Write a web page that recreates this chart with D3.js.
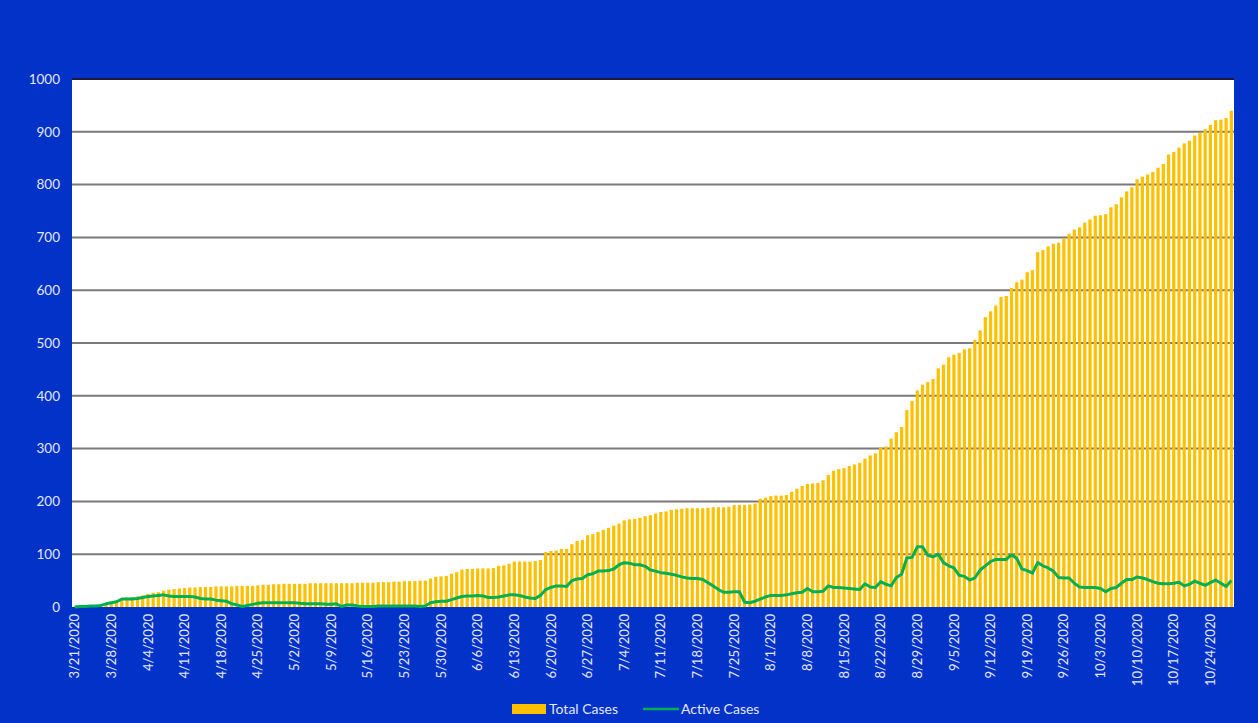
<!DOCTYPE html>
<html>
<head>
<meta charset="utf-8">
<script src="https://cdn.jsdelivr.net/npm/d3@7"></script>
<style>
  body { margin: 0; background: #0232c8; }
  svg { display: block; }
  text { font-family: Lato, "Open Sans", sans-serif; fill: #e3e7fb; }
</style>
</head>
<body>
<svg id="chart" width="1258" height="723"></svg>
<script>
// first day of the series, one value per day after it
var startDate = "2020-03-21";

var totalCases = [
  1, 1, 2, 2, 3, 4, 5, 7, 11, 16, 18, 19, 20, 22, 25, 27, 28, 31, 33, 34,
  35, 36, 37, 37, 38, 38, 38, 39, 39, 39, 39, 40, 40, 40, 40, 41, 42, 42, 43, 43,
  44, 44, 44, 44, 44, 45, 45, 45, 45, 45, 45, 45, 45, 45, 46, 46, 46, 46, 47, 47,
  47, 48, 48, 49, 49, 49, 50, 50, 54, 57, 58, 59, 63, 66, 71, 72, 72, 73, 73, 73,
  74, 78, 79, 82, 86, 86, 86, 86, 87, 89, 104, 106, 107, 110, 110, 119, 125, 127, 136, 138,
  142, 146, 150, 154, 158, 164, 166, 167, 169, 172, 174, 177, 180, 181, 184, 185, 186, 187, 187, 187,
  187, 188, 189, 189, 189, 190, 193, 193, 193, 194, 196, 205, 207, 210, 211, 211, 212, 218, 224, 229,
  233, 234, 235, 240, 250, 258, 261, 263, 267, 270, 273, 281, 287, 291, 302, 304, 319, 331, 341, 373,
  390, 410, 421, 426, 432, 452, 459, 473, 478, 481, 488, 490, 506, 524, 549, 560, 571, 587, 589, 604,
  615, 620, 634, 638, 672, 676, 683, 688, 690, 698, 707, 715, 719, 728, 734, 741, 742, 744, 757, 763,
  776, 787, 795, 810, 815, 819, 824, 832, 839, 857, 862, 870, 878, 883, 893, 898, 905, 913, 922, 923,
  926, 940
];

var activeCases = [
  0, 1, 1, 2, 2, 3, 6, 8, 10, 15, 15, 15, 16, 18, 20, 21, 22, 23, 21, 20,
  20, 20, 20, 19, 16, 15, 15, 13, 12, 11, 6, 4, 1, 3, 5, 7, 8, 8, 8, 8,
  8, 8, 8, 7, 6, 6, 6, 6, 5, 5, 6, 1, 4, 4, 2, 1, 1, 1, 2, 2,
  2, 2, 2, 2, 2, 2, 1, 2, 8, 10, 11, 11, 14, 17, 20, 21, 21, 22, 21, 18,
  18, 19, 21, 23, 23, 22, 19, 17, 16, 22, 33, 37, 40, 40, 39, 50, 53, 54, 61, 63,
  68, 68, 69, 72, 80, 84, 83, 80, 80, 77, 70, 68, 65, 64, 62, 60, 57, 55, 54, 54,
  52, 46, 40, 33, 28, 28, 29, 29, 9, 8, 11, 15, 19, 22, 22, 22, 23, 25, 27, 28,
  35, 29, 29, 30, 40, 37, 37, 36, 35, 34, 33, 44, 38, 37, 48, 43, 40, 56, 62, 93,
  94, 114, 114, 98, 95, 100, 84, 78, 74, 60, 58, 51, 55, 70, 78, 86, 90, 90, 90, 99,
  92, 72, 69, 64, 84, 78, 74, 68, 56, 55, 55, 45, 38, 37, 37, 37, 35, 29, 35, 37,
  45, 52, 52, 57, 55, 52, 48, 45, 44, 44, 45, 47, 40, 43, 49, 45, 41, 46, 51, 45,
  39, 50
];

var yTicks = [0, 100, 200, 300, 400, 500, 600, 700, 800, 900, 1000];
var labelEvery = 7;

var parseDate = d3.timeParse("%Y-%m-%d");
var fmt = function(d) { return (d.getMonth() + 1) + "/" + d.getDate() + "/" + d.getFullYear(); };
var days = totalCases.map(function(v, i) { return d3.timeDay.offset(parseDate(startDate), i); });
var dayLabels = days.map(fmt);

var data = dayLabels.map(function(lbl, i) {
  return { label: lbl, total: totalCases[i], active: activeCases[i] };
});

var dims = { left: 72, right: 1234, top: 79, bottom: 607 };

var svg = d3.select("#chart");

svg.append("rect")
  .attr("width", 1258).attr("height", 723)
  .attr("fill", "#0232c8");

var x = d3.scaleBand()
  .domain(dayLabels)
  .range([dims.left, dims.right])
  .paddingInner(0.38)
  .paddingOuter(0.2);

var y = d3.scaleLinear()
  .domain([0, 1000])
  .range([dims.bottom, dims.top]);

// plot area
svg.append("rect")
  .attr("x", dims.left).attr("y", dims.top)
  .attr("width", dims.right - dims.left)
  .attr("height", dims.bottom - dims.top)
  .attr("fill", "#ffffff");

// gridlines
svg.append("g")
  .selectAll("line")
  .data(yTicks.filter(function(t) { return t > 0; }))
  .enter()
  .append("line")
  .attr("x1", dims.left).attr("x2", dims.right)
  .attr("y1", function(d) { return y(d); })
  .attr("y2", function(d) { return y(d); })
  .attr("stroke", function(d) { return d === 1000 ? "#1a1a3a" : "#7a7a7a"; })
  .attr("stroke-width", 2);

// bars
svg.append("g")
  .selectAll("rect")
  .data(data)
  .enter()
  .append("rect")
  .attr("x", function(d) { return x(d.label); })
  .attr("y", function(d) { return y(d.total); })
  .attr("width", x.bandwidth())
  .attr("height", function(d) { return y(0) - y(d.total); })
  .attr("fill", "#ffc000");

// active cases line
var line = d3.line()
  .x(function(d) { return x(d.label) + x.bandwidth() / 2; })
  .y(function(d) { return y(d.active); });

svg.append("path")
  .datum(data)
  .attr("d", line)
  .attr("fill", "none")
  .attr("stroke", "#00b050")
  .attr("stroke-width", 3)
  .attr("stroke-linejoin", "round");

// y axis labels
var yAxis = d3.axisLeft(y).tickValues(yTicks).tickFormat(d3.format("d")).tickSize(0).tickPadding(12);
svg.append("g")
  .attr("transform", "translate(" + dims.left + ",0)")
  .call(yAxis)
  .call(function(g) { g.select(".domain").remove(); })
  .selectAll("text")
  .style("font-size", "13.5px")
  .attr("fill", "#e3e7fb");

// x axis labels (every 7th day)
var xAxis = d3.axisBottom(x)
  .tickValues(dayLabels.filter(function(d, i) { return i % labelEvery === 0; }))
  .tickSize(0);
svg.append("g")
  .attr("transform", "translate(0," + dims.bottom + ")")
  .call(xAxis)
  .call(function(g) { g.select(".domain").remove(); })
  .selectAll("text")
  .style("font-size", "13px")
  .attr("fill", "#e3e7fb")
  .attr("text-anchor", "end")
  .attr("transform", "rotate(-90)")
  .attr("x", -7)
  .attr("y", 0)
  .attr("dy", "0.35em");

// legend
var legend = svg.append("g");
legend.append("rect")
  .attr("x", 512).attr("y", 704)
  .attr("width", 34).attr("height", 10)
  .attr("fill", "#ffc000");
legend.append("text")
  .attr("x", 549).attr("y", 714)
  .style("font-size", "14px")
  .text("Total Cases");
legend.append("line")
  .attr("x1", 643).attr("x2", 679)
  .attr("y1", 709).attr("y2", 709)
  .attr("stroke", "#00b050").attr("stroke-width", 2.5);
legend.append("text")
  .attr("x", 681).attr("y", 714)
  .style("font-size", "14px")
  .text("Active Cases");
</script>
</body>
</html>
